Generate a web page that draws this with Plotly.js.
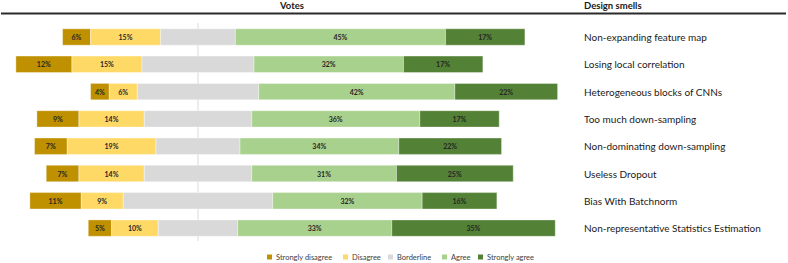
<!DOCTYPE html>
<html>
<head>
<meta charset="utf-8">
<script src="https://cdn.plot.ly/plotly-3.0.1.min.js"></script>
<style>html,body{margin:0;padding:0;background:#fff;}#chart{width:788px;height:263px;}</style>
</head>
<body>
<div id="chart"></div>
<script>
// ---- data ----
const smells = [
  "Non-expanding feature map",
  "Losing local correlation",
  "Heterogeneous blocks of CNNs",
  "Too much down-sampling",
  "Non-dominating down-sampling",
  "Useless Dropout",
  "Bias With Batchnorm",
  "Non-representative Statistics Estimation"
];
const stronglyDisagree = [6, 12, 4, 9, 7, 7, 11, 5];
const disagree         = [15, 15, 6, 14, 19, 14, 9, 10];
const borderline       = [16, 24, 26, 23, 18, 23, 32, 17];
const agree            = [45, 32, 42, 36, 34, 31, 32, 33];
const stronglyAgree    = [17, 17, 22, 17, 22, 25, 16, 35];
const seriesNames = ["Strongly disagree", "Disagree", "Borderline", "Agree", "Strongly agree"];
const colors = ["#BF9000", "#FFD966", "#D9D9D9", "#A9D18E", "#538135"];

// ---- geometry helpers (pixel layout) ----
const W = 788, H = 263;
const centerPx = 198, pxPerPct = 4.67;
const xRange = [-centerPx / pxPerPct, (W - centerPx) / pxPerPct];
const rowTop = 37, rowStep = 27.3;
const yTop = -rowTop / rowStep;
const yRange = [yTop + H / rowStep, yTop];

// bases: diverging around the middle of Borderline
const half = borderline.map(v => v / 2);
const baseSD = stronglyDisagree.map((v, i) => -(half[i] + disagree[i] + v));
const baseD  = disagree.map((v, i) => -(half[i] + v));
const baseB  = half.map(h => -h);
const baseA  = half.slice();
const baseSA = agree.map((v, i) => half[i] + v);

const values = [stronglyDisagree, disagree, borderline, agree, stronglyAgree];
const bases = [baseSD, baseD, baseB, baseA, baseSA];

const traces = values.map((vals, k) => ({
  type: "bar",
  orientation: "h",
  name: seriesNames[k],
  y: smells,
  x: vals,
  base: bases[k],
  marker: { color: colors[k], line: { width: 0.6, color: "rgba(255,255,255,0.6)" } },
  text: k === 2 ? vals.map(() => "") : vals.map(v => v + "%"),
  textposition: "inside",
  insidetextanchor: "middle",
  textangle: 0,
  constraintext: "none",
  textfont: { family: "Lato, 'Open Sans', sans-serif", size: 7, color: "#262626", weight: 700 },
  hoverinfo: "skip",
  showlegend: false,
  width: 0.6
}));

const annotations = [];
// category labels on the right
smells.forEach(s => annotations.push({
  xref: "paper", yref: "y", x: 582 / W, y: s, text: s, showarrow: false,
  xanchor: "left", yanchor: "middle",
  font: { family: "Lato, sans-serif", size: 10, color: "#1a1a1a" }
}));
// headers
annotations.push({ xref: "paper", yref: "paper", x: 291 / W, y: 1 - 6 / H, text: "<b>Votes</b>",
  showarrow: false, xanchor: "center", yanchor: "middle",
  font: { family: "Lato, sans-serif", size: 9.5, color: "#1a1a1a" } });
annotations.push({ xref: "paper", yref: "paper", x: 582 / W, y: 1 - 6 / H, text: "<b>Design smells</b>",
  showarrow: false, xanchor: "left", yanchor: "middle",
  font: { family: "Lato, sans-serif", size: 9.5, color: "#1a1a1a" } });

// custom legend
const legendX = [267, 343, 388, 442, 478];
const shapes = [];
seriesNames.forEach((n, k) => {
  const x0 = legendX[k];
  shapes.push({ type: "rect", xref: "paper", yref: "paper",
    x0: x0 / W, x1: (x0 + 5) / W, y0: 1 - 259.5 / H, y1: 1 - 254.5 / H,
    fillcolor: colors[k], line: { width: 0 } });
  annotations.push({ xref: "paper", yref: "paper", x: (x0 + 7) / W, y: 1 - 257 / H, text: n,
    showarrow: false, xanchor: "left", yanchor: "middle",
    font: { family: "Lato, sans-serif", size: 7.5, color: "#404040" } });
});
// header rule
shapes.push({ type: "line", xref: "paper", yref: "paper", x0: 1 / W, x1: 786 / W,
  y0: 1 - 13.5 / H, y1: 1 - 13.5 / H, line: { color: "#2b2b2b", width: 1.8 }, layer: "above" });
// center line
shapes.push({ type: "line", xref: "x", yref: "paper", x0: 0, x1: 0,
  y0: 1 - 241 / H, y1: 1 - 23 / H, line: { color: "#D9D9D9", width: 1 }, layer: "below" });

const layout = {
  width: W, height: H,
  margin: { l: 0, r: 0, t: 0, b: 0 },
  paper_bgcolor: "#fff", plot_bgcolor: "rgba(0,0,0,0)",
  barmode: "overlay",
  showlegend: false,
  xaxis: { range: xRange, showgrid: false, zeroline: false, showticklabels: false, fixedrange: true },
  yaxis: { type: "category", categoryorder: "array", categoryarray: smells, range: yRange,
    showgrid: false, zeroline: false, showticklabels: false, fixedrange: true },
  annotations: annotations,
  shapes: shapes,
  font: { family: "Lato, sans-serif" }
};

Plotly.newPlot("chart", traces, layout, { displayModeBar: false, staticPlot: true });
</script>
</body>
</html>
